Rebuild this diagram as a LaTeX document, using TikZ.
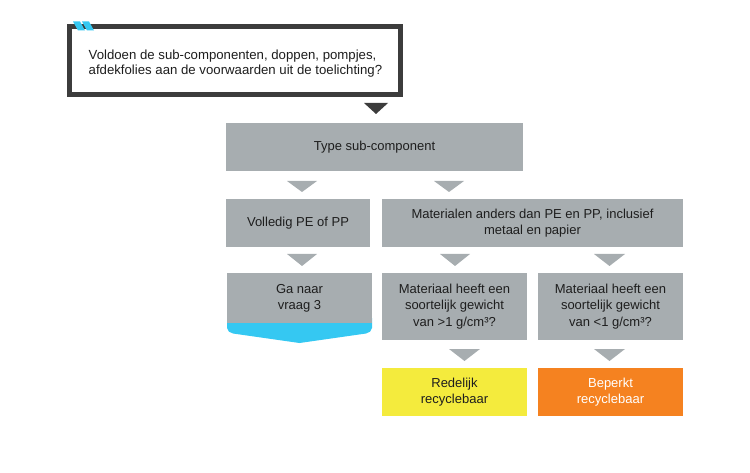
\documentclass[tikz,border=0pt]{standalone}
\usepackage{fontspec}
\setmainfont{Liberation Sans}
\definecolor{boxgray}{HTML}{A7ADB0}
\definecolor{darkframe}{HTML}{3C3C3C}
\definecolor{skyblue}{HTML}{35C8F2}
\definecolor{ylw}{HTML}{F4EB3D}
\definecolor{orng}{HTML}{F58220}
\definecolor{txt}{HTML}{1E1E1E}
\tikzset{
  box/.style={fill=boxgray, draw=none, inner sep=0pt, align=center, text=txt,
    font=\fontsize{13}{16.5}\selectfont},
  tri/.style={fill=boxgray, draw=none},
}
\begin{document}
\begin{tikzpicture}[x=1pt,y=-1pt]
\useasboundingbox (0,0) rectangle (750,473);
% top question box
\draw[darkframe, line width=5pt, fill=white] (69.5,26.5) rectangle (400.5,94.5);
\fill[skyblue] (73,21.5) -- (80,21.5) -- (85,30.5) -- (78,30.5) -- cycle;
\fill[skyblue] (82,21.5) -- (89,21.5) -- (94,30.5) -- (87,30.5) -- cycle;
\node[anchor=west, align=left, text=txt, inner sep=0pt, font=\fontsize{13.2}{15.5}\selectfont] (q) at (88.5,63.5)
  {Voldoen de sub-componenten, doppen, pompjes,\\afdekfolies aan de voorwaarden uit de toelichting?};
\fill[darkframe] (364,103) -- (388,103) -- (376,114) -- cycle;
% boxes
\node[box, minimum width=297pt, minimum height=48pt] (type) at (374.5,147) {Type sub-component};
\node[box, minimum width=144pt, minimum height=48pt] (pe) at (298,223) {Volledig PE of PP};
\node[box, minimum width=301pt, minimum height=48pt] (mat) at (532.5,223) {Materialen anders dan PE en PP, inclusief\\metaal en papier};
\node[box, minimum width=145pt, minimum height=67pt] (heavy) at (454.5,306.5) {Materiaal heeft een\\soortelijk gewicht\\van >1 g/cm³?};
\node[box, minimum width=145pt, minimum height=67pt] (light) at (610.5,306.5) {Materiaal heeft een\\soortelijk gewicht\\van <1 g/cm³?};
\node[box, fill=ylw, minimum width=145pt, minimum height=48pt] (red) at (454.5,392) {Redelijk\\recyclebaar};
\node[box, fill=orng, text=white, minimum width=145pt, minimum height=48pt] (bep) at (610.5,392) {Beperkt\\recyclebaar};
% Ga naar vraag 3 (chevron box)
\fill[skyblue] (227,318) -- (372,318) -- (372,328) to[out=-90,in=15] (366,333.5) -- (299.5,343) -- (233,333.5) to[out=165,in=-90] (227,328) -- cycle;
\fill[boxgray] (227,273) rectangle (372,323);
\node[box, fill=none, minimum width=145pt] (ga) at (299.5,298.5) {Ga naar\\vraag 3};
% connector triangles
\fill[tri] (287,181) -- (317,181) -- (302,192) -- cycle;
\fill[tri] (434,181) -- (464,181) -- (449,192) -- cycle;
\fill[tri] (287,254) -- (317,254) -- (302,266) -- cycle;
\fill[tri] (440,254) -- (470,254) -- (455,266) -- cycle;
\fill[tri] (594,254) -- (625,254) -- (609.5,266) -- cycle;
\fill[tri] (449,349) -- (480,349) -- (464.5,361) -- cycle;
\fill[tri] (594,349) -- (625,349) -- (609.5,361) -- cycle;
\end{tikzpicture}
\end{document}
